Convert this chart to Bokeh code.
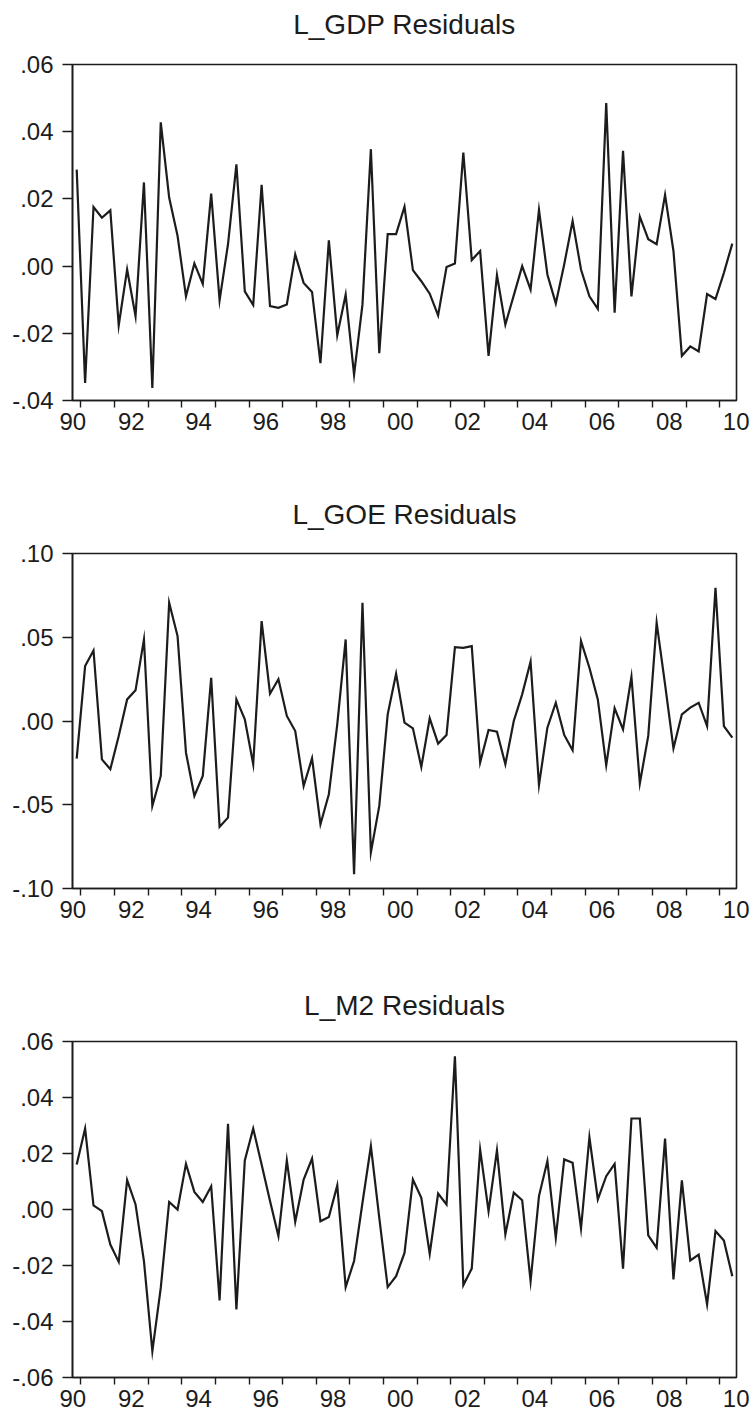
from bokeh.plotting import figure
from bokeh.layouts import column
from bokeh.models import Range1d, FixedTicker, Title, LinearAxis
from bokeh.embed import file_html
from bokeh.resources import INLINE

# ---------------- data (quarterly residuals, 1990Q4 - 2010Q2) ----------------
start_year = 1990
start_quarter = 4

gdp_resid = [
    0.0287, -0.0348, 0.0176, 0.0144, 0.0166, -0.0176, -0.0010, -0.0149, 0.0249, -0.0363,
    0.0428, 0.0204, 0.0090, -0.0090, 0.0008, -0.0053, 0.0216, -0.0102, 0.0065, 0.0303,
    -0.0075, -0.0116, 0.0242, -0.0119, -0.0124, -0.0114, 0.0035, -0.0050, -0.0077, -0.0289,
    0.0077, -0.0206, -0.0085, -0.0323, -0.0114, 0.0348, -0.0259, 0.0095, 0.0095, 0.0177,
    -0.0012, -0.0045, -0.0082, -0.0147, -0.0003, 0.0008, 0.0338, 0.0018, 0.0045, -0.0267,
    -0.0027, -0.0174, -0.0087, 0.0000, -0.0070, 0.0167, -0.0025, -0.0111, 0.0005, 0.0134,
    -0.0010, -0.0090, -0.0127, 0.0485, -0.0139, 0.0343, -0.0090, 0.0147, 0.0080, 0.0065,
    0.0212, 0.0045, -0.0267, -0.0239, -0.0254, -0.0083, -0.0098, -0.0020, 0.0067,
]

goe_resid = [
    -0.0225, 0.0328, 0.0421, -0.0229, -0.0288, -0.0089, 0.0129, 0.0183, 0.0487, -0.0507,
    -0.0328, 0.0706, 0.0507, -0.0189, -0.0447, -0.0328, 0.0258, -0.0632, -0.0577, 0.0129,
    0.0010, -0.0258, 0.0596, 0.0163, 0.0249, 0.0030, -0.0060, -0.0388, -0.0223, -0.0616,
    -0.0437, -0.0020, 0.0487, -0.0914, 0.0706, -0.0785, -0.0507, 0.0040, 0.0282, -0.0010,
    -0.0044, -0.0274, 0.0016, -0.0135, -0.0083, 0.0441, 0.0437, 0.0447, -0.0248, -0.0054,
    -0.0064, -0.0258, 0.0000, 0.0159, 0.0354, -0.0382, -0.0040, 0.0109, -0.0083, -0.0175,
    0.0477, 0.0318, 0.0129, -0.0264, 0.0076, -0.0050, 0.0264, -0.0372, -0.0089, 0.0586,
    0.0219, -0.0163, 0.0040, 0.0080, 0.0109, -0.0030, 0.0795, -0.0030, -0.0099,
]

m2_resid = [
    0.0161, 0.0289, 0.0015, -0.0006, -0.0125, -0.0187, 0.0105, 0.0018, -0.0184, -0.0506,
    -0.0280, 0.0027, 0.0000, 0.0163, 0.0063, 0.0027, 0.0083, -0.0325, 0.0306, -0.0357,
    0.0175, 0.0289, 0.0161, 0.0030, -0.0095, 0.0175, -0.0044, 0.0107, 0.0182, -0.0042,
    -0.0027, 0.0086, -0.0277, -0.0184, 0.0024, 0.0226, -0.0030, -0.0277, -0.0238, -0.0155,
    0.0107, 0.0042, -0.0158, 0.0057, 0.0018, 0.0547, -0.0270, -0.0211, 0.0214, -0.0006,
    0.0211, -0.0089, 0.0060, 0.0033, -0.0256, 0.0048, 0.0173, -0.0101, 0.0179, 0.0167,
    -0.0068, 0.0258, 0.0036, 0.0119, 0.0163, -0.0211, 0.0325, 0.0325, -0.0092, -0.0137,
    0.0253, -0.0250, 0.0104, -0.0182, -0.0161, -0.0339, -0.0077, -0.0111, -0.0238,
]

titles = ["L_GDP Residuals", "L_GOE Residuals", "L_M2 Residuals"]

x_label_years = [1990, 1992, 1994, 1996, 1998, 2000, 2002, 2004, 2006, 2008, 2010]
x_labels = ["90", "92", "94", "96", "98", "00", "02", "04", "06", "08", "10"]

gdp_yticks = [-0.04, -0.02, 0.0, 0.02, 0.04, 0.06]
gdp_ylabels = ["-.04", "-.02", ".00", ".02", ".04", ".06"]
goe_yticks = [-0.10, -0.05, 0.0, 0.05, 0.10]
goe_ylabels = ["-.10", "-.05", ".00", ".05", ".10"]
m2_yticks = [-0.06, -0.04, -0.02, 0.0, 0.02, 0.04, 0.06]
m2_ylabels = ["-.06", "-.04", "-.02", ".00", ".02", ".04", ".06"]

# ---------------- helpers ----------------
def quarter_positions(n):
    xs = []
    y, q = start_year, start_quarter
    for _ in range(n):
        xs.append(y + (q - 0.5) / 4.0)
        q += 1
        if q > 4:
            q = 1
            y += 1
    return xs

X_START = 1990.75
X_END = 2010.5
FONT = "Liberation Sans"
INK = "#1c1c1c"


def make_panel(title, values, yticks, ylabels, height, top, bottom, gap):
    xs = quarter_positions(len(values))
    p = figure(width=750, height=height, title=None,
               x_range=Range1d(X_START, X_END),
               y_range=Range1d(yticks[0], yticks[-1]),
               output_backend="svg", toolbar_location=None,
               min_border_left=72, min_border_right=14,
               min_border_top=top, min_border_bottom=bottom)
    p.line(xs, values, line_color=INK, line_width=2.2, line_join="miter")

    xa = p.below[0]
    ya = p.left[0]

    # invisible axis used as a spacer between the frame and the title
    mid = (X_START + X_END) / 2.0
    spacer = LinearAxis(ticker=FixedTicker(ticks=[mid], minor_ticks=[]),
                        major_label_overrides={mid: ""},
                        major_label_text_font_size="1px",
                        major_tick_out=gap - 1, major_tick_in=0,
                        major_tick_line_color=None, minor_tick_line_color=None,
                        axis_line_color=None, major_label_standoff=0)
    p.add_layout(spacer, "above")
    p.add_layout(Title(text=title, align="center", text_font=FONT,
                       text_font_size="28px", text_font_style="normal",
                       text_color=INK, standoff=0), "above")

    p.xgrid.visible = False
    p.ygrid.visible = False
    p.outline_line_color = INK
    p.outline_line_width = 1.6
    p.background_fill_color = "white"
    p.border_fill_color = "white"

    # x axis: labels centred in each labelled year, tick marks at year boundaries
    label_pos = []
    for yr in x_label_years:
        pos = yr + 0.5
        pos = min(max(pos, X_START + 0.01), X_END - 0.01)
        label_pos.append(pos)
    year_bounds = [float(yr) for yr in range(1991, 2011)]
    xa.ticker = FixedTicker(ticks=label_pos, minor_ticks=year_bounds)
    xa.major_label_overrides = {pos: lab for pos, lab in zip(label_pos, x_labels)}
    xa.major_tick_line_color = None
    xa.major_tick_out = 0
    xa.major_tick_in = 0
    xa.minor_tick_out = 7
    xa.minor_tick_in = 0
    xa.minor_tick_line_color = INK
    xa.minor_tick_line_width = 1.4
    xa.axis_line_color = INK
    xa.axis_line_width = 1.6
    xa.major_label_standoff = 5
    xa.major_label_text_font = FONT
    xa.major_label_text_font_size = "24px"
    xa.major_label_text_color = INK

    ya.ticker = FixedTicker(ticks=yticks, minor_ticks=[])
    ya.major_label_overrides = {t: l for t, l in zip(yticks, ylabels)}
    ya.major_tick_out = 10
    ya.major_tick_in = 0
    ya.major_tick_line_color = INK
    ya.major_tick_line_width = 1.4
    ya.minor_tick_line_color = None
    ya.axis_line_color = INK
    ya.axis_line_width = 1.6
    ya.major_label_standoff = 9
    ya.major_label_text_font = FONT
    ya.major_label_text_font_size = "24px"
    ya.major_label_text_color = INK
    return p


p1 = make_panel(titles[0], gdp_resid, gdp_yticks, gdp_ylabels, 480, 64, 80, 26)
p2 = make_panel(titles[1], goe_resid, goe_yticks, goe_ylabels, 490, 73, 82, 25)
p3 = make_panel(titles[2], m2_resid, m2_yticks, m2_ylabels, 441, 71, 34, 22)

layout = column(p1, p2, p3, spacing=0)
open("out.html", "w").write(file_html(layout, INLINE))
